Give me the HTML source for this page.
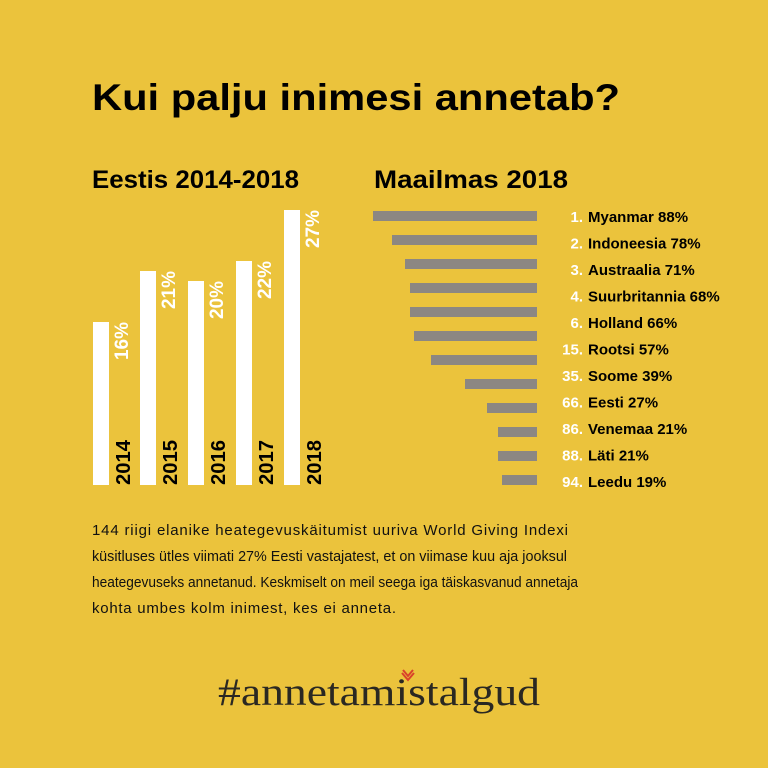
<!DOCTYPE html>
<html><head><meta charset="utf-8"><style>
html,body{margin:0;padding:0;background:#EBC33C;}
svg{display:block}
text{font-family:"Liberation Sans",sans-serif}
</style></head><body>
<svg width="768" height="768" viewBox="0 0 768 768" xmlns="http://www.w3.org/2000/svg">
<rect width="768" height="768" fill="#EBC33C"/>
<text x="92" y="110" font-size="37" font-weight="bold" fill="#000" textLength="528" lengthAdjust="spacingAndGlyphs">Kui palju inimesi annetab?</text>
<text x="92" y="188" font-size="25" font-weight="bold" fill="#000" textLength="207" lengthAdjust="spacingAndGlyphs">Eestis 2014-2018</text>
<text x="374" y="188" font-size="25" font-weight="bold" fill="#000" textLength="194" lengthAdjust="spacingAndGlyphs">Maailmas 2018</text>

<g fill="#fff">
<rect x="93" y="322" width="16" height="163"/>
<rect x="140" y="271" width="16" height="214"/>
<rect x="188" y="281" width="16" height="204"/>
<rect x="236" y="261" width="16" height="224"/>
<rect x="284" y="210" width="16" height="275"/>
</g>
<g font-size="20" font-weight="bold" fill="#000">
<text transform="translate(130,485) rotate(-90)" textLength="45" lengthAdjust="spacingAndGlyphs">2014</text>
<text transform="translate(177,485) rotate(-90)" textLength="45" lengthAdjust="spacingAndGlyphs">2015</text>
<text transform="translate(225,485) rotate(-90)" textLength="45" lengthAdjust="spacingAndGlyphs">2016</text>
<text transform="translate(273,485) rotate(-90)" textLength="45" lengthAdjust="spacingAndGlyphs">2017</text>
<text transform="translate(321,485) rotate(-90)" textLength="45" lengthAdjust="spacingAndGlyphs">2018</text>
</g>
<g font-size="19" font-weight="bold" fill="#fff" text-anchor="end">
<text transform="translate(128,322) rotate(-90)">16%</text>
<text transform="translate(175,271) rotate(-90)">21%</text>
<text transform="translate(223,281) rotate(-90)">20%</text>
<text transform="translate(271,261) rotate(-90)">22%</text>
<text transform="translate(319,210) rotate(-90)">27%</text>
</g>

<g fill="#8C8782">
<rect x="373" y="211" width="164" height="10"/>
<rect x="392" y="235" width="145" height="10"/>
<rect x="405" y="259" width="132" height="10"/>
<rect x="410" y="283" width="127" height="10"/>
<rect x="410" y="307" width="127" height="10"/>
<rect x="414" y="331" width="123" height="10"/>
<rect x="431" y="355" width="106" height="10"/>
<rect x="465" y="379" width="72" height="10"/>
<rect x="487" y="403" width="50" height="10"/>
<rect x="498" y="427" width="39" height="10"/>
<rect x="498" y="451" width="39" height="10"/>
<rect x="502" y="475" width="35" height="10"/>
</g>
<g font-size="15" font-weight="bold">
<g fill="#fff" text-anchor="end">
<text x="583" y="222">1.</text><text x="583" y="248.5">2.</text><text x="583" y="275">3.</text>
<text x="583" y="301.5">4.</text><text x="583" y="328">6.</text><text x="583" y="354.5">15.</text>
<text x="583" y="381">35.</text><text x="583" y="407.5">66.</text><text x="583" y="434">86.</text>
<text x="583" y="460.5">88.</text><text x="583" y="487">94.</text>
</g>
<g fill="#000">
<text x="588" y="222">Myanmar 88%</text><text x="588" y="248.5">Indoneesia 78%</text>
<text x="588" y="275">Austraalia 71%</text><text x="588" y="301.5">Suurbritannia 68%</text>
<text x="588" y="328">Holland 66%</text><text x="588" y="354.5">Rootsi 57%</text>
<text x="588" y="381">Soome 39%</text><text x="588" y="407.5">Eesti 27%</text>
<text x="588" y="434">Venemaa 21%</text><text x="588" y="460.5">Läti 21%</text>
<text x="588" y="487">Leedu 19%</text>
</g>
</g>

<g font-size="15" fill="#111">
<text x="92" y="535" textLength="476" lengthAdjust="spacing">144 riigi elanike heategevuskäitumist uuriva World Giving Indexi</text>
<text x="92" y="561" textLength="475" lengthAdjust="spacingAndGlyphs">küsitluses ütles viimati 27% Eesti vastajatest, et on viimase kuu aja jooksul</text>
<text x="92" y="587" textLength="486" lengthAdjust="spacingAndGlyphs">heategevuseks annetanud. Keskmiselt on meil seega iga täiskasvanud annetaja</text>
<text x="92" y="613" textLength="304" lengthAdjust="spacing">kohta umbes kolm inimest, kes ei anneta.</text>
</g>

<text x="218" y="705" font-size="39" fill="#2a2822" textLength="322" lengthAdjust="spacingAndGlyphs" style="font-family:'Liberation Serif',serif">#annetamistalgud</text>
<path d="M402 673 l6 7 l6 -7 M403 670 l5 6 l5 -6" stroke="#D9422B" stroke-width="2" fill="none"/>
</svg>
</body></html>
